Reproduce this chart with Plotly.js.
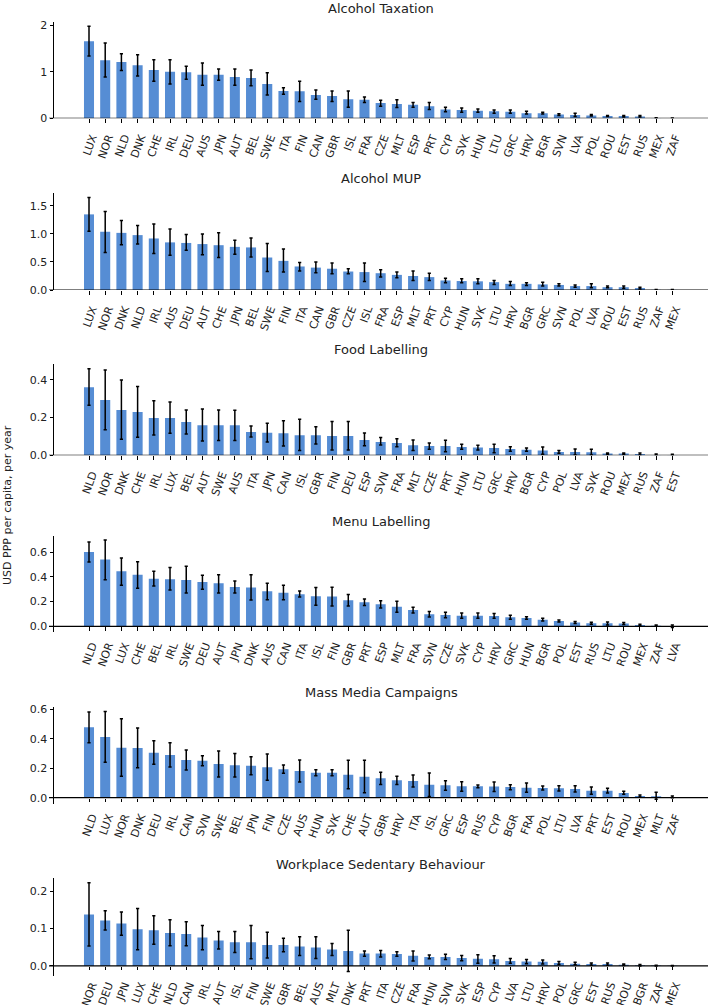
<!DOCTYPE html>
<html>
<head>
<meta charset="utf-8">
<script src="https://cdn.plot.ly/plotly-3.0.1.min.js"></script>
<style>html,body{margin:0;padding:0;background:#fff;}#chart{width:709px;height:1005px;}</style>
</head>
<body>
<div id="chart"></div>
<script>
// ---- Data ----
const titles = ["Alcohol Taxation","Alcohol MUP","Food Labelling","Menu Labelling","Mass Media Campaigns","Workplace Sedentary Behaviour"];

const cat1 = ["LUX","NOR","NLD","DNK","CHE","IRL","DEU","AUS","JPN","AUT","BEL","SWE","ITA","FIN","CAN","GBR","ISL","FRA","CZE","MLT","ESP","PRT","CYP","SVK","HUN","LTU","GRC","HRV","BGR","SVN","LVA","POL","ROU","EST","RUS","MEX","ZAF"];
const val1 = [1.66,1.25,1.21,1.14,1.04,1.00,0.99,0.94,0.94,0.89,0.87,0.74,0.59,0.58,0.50,0.48,0.41,0.40,0.33,0.31,0.29,0.26,0.19,0.18,0.16,0.15,0.14,0.11,0.11,0.08,0.07,0.06,0.05,0.05,0.04,0.005,0.003];
const hi1  = [1.98,1.62,1.39,1.37,1.26,1.26,1.12,1.19,1.06,1.06,1.04,0.98,0.66,0.80,0.61,0.59,0.59,0.46,0.39,0.40,0.34,0.34,0.24,0.22,0.20,0.18,0.18,0.15,0.13,0.10,0.11,0.08,0.06,0.06,0.06,0.012,0.008];
const lo1  = [1.34,0.89,1.03,0.91,0.80,0.74,0.84,0.71,0.82,0.71,0.70,0.50,0.52,0.36,0.41,0.36,0.24,0.34,0.26,0.23,0.24,0.19,0.14,0.13,0.13,0.11,0.11,0.09,0.09,0.06,0.04,0.05,0.04,0.03,0.03,0.001,0.0];

const cat2 = ["LUX","NOR","DNK","NLD","IRL","AUS","DEU","AUT","CHE","JPN","BEL","SWE","FIN","ITA","CAN","GBR","CZE","ISL","FRA","ESP","MLT","PRT","CYP","HUN","SVK","LTU","HRV","BGR","GRC","SVN","POL","LVA","ROU","EST","RUS","ZAF","MEX"];
const val2 = [1.35,1.04,1.02,0.98,0.92,0.85,0.84,0.82,0.80,0.77,0.76,0.58,0.52,0.42,0.40,0.38,0.33,0.32,0.30,0.27,0.25,0.23,0.17,0.16,0.155,0.14,0.11,0.11,0.10,0.09,0.07,0.07,0.05,0.05,0.035,0.003,0.002];
const hi2  = [1.65,1.40,1.24,1.15,1.18,1.09,0.99,1.00,1.02,0.89,0.93,0.83,0.73,0.49,0.50,0.48,0.38,0.48,0.36,0.32,0.34,0.30,0.21,0.20,0.20,0.17,0.15,0.13,0.14,0.11,0.09,0.11,0.07,0.07,0.05,0.01,0.008];
const lo2  = [1.05,0.67,0.81,0.82,0.65,0.62,0.71,0.63,0.58,0.64,0.59,0.33,0.32,0.34,0.31,0.29,0.29,0.15,0.23,0.22,0.17,0.17,0.13,0.13,0.11,0.10,0.08,0.08,0.07,0.07,0.05,0.04,0.04,0.03,0.02,0.0,0.0];

const cat3 = ["NLD","NOR","DNK","CHE","IRL","LUX","BEL","AUT","SWE","AUS","ITA","JPN","CAN","ISL","GBR","FIN","DEU","ESP","SVN","FRA","MLT","CZE","PRT","HUN","LTU","GRC","HRV","BGR","CYP","POL","LVA","SVK","ROU","MEX","RUS","ZAF","EST"];
const val3 = [0.361,0.294,0.241,0.230,0.198,0.198,0.177,0.159,0.159,0.159,0.124,0.120,0.117,0.106,0.106,0.103,0.103,0.081,0.071,0.065,0.053,0.050,0.050,0.044,0.041,0.039,0.034,0.030,0.025,0.018,0.018,0.016,0.009,0.009,0.007,0.002,0.001];
const hi3  = [0.460,0.453,0.400,0.365,0.290,0.283,0.241,0.246,0.241,0.239,0.156,0.170,0.184,0.191,0.152,0.179,0.179,0.119,0.094,0.088,0.081,0.065,0.080,0.058,0.053,0.058,0.046,0.039,0.044,0.025,0.034,0.032,0.012,0.012,0.012,0.007,0.005];
const lo3  = [0.265,0.136,0.085,0.096,0.108,0.117,0.113,0.076,0.078,0.078,0.097,0.071,0.050,0.025,0.060,0.028,0.028,0.051,0.055,0.046,0.025,0.032,0.019,0.032,0.028,0.014,0.021,0.021,0.005,0.011,0.002,0.002,0.004,0.004,0.002,0.0,-0.003];

const cat4 = ["NLD","NOR","LUX","CHE","BEL","IRL","SWE","DEU","AUT","JPN","DNK","AUS","CAN","ITA","ISL","FIN","GBR","PRT","ESP","MLT","FRA","SVN","CZE","SVK","CYP","HRV","GRC","HUN","BGR","POL","EST","RUS","LTU","ROU","MEX","ZAF","LVA"];
const val4 = [0.603,0.541,0.446,0.419,0.386,0.381,0.376,0.359,0.349,0.319,0.314,0.284,0.273,0.259,0.243,0.241,0.211,0.195,0.178,0.159,0.132,0.097,0.092,0.086,0.086,0.084,0.073,0.068,0.054,0.043,0.030,0.024,0.024,0.022,0.011,0.005,0.003];
const hi4  = [0.684,0.700,0.554,0.524,0.446,0.476,0.486,0.414,0.419,0.368,0.419,0.349,0.332,0.286,0.314,0.316,0.257,0.222,0.208,0.203,0.154,0.119,0.114,0.108,0.108,0.103,0.089,0.078,0.065,0.051,0.038,0.032,0.035,0.030,0.016,0.011,0.010];
const lo4  = [0.522,0.378,0.332,0.308,0.327,0.295,0.270,0.300,0.270,0.270,0.214,0.216,0.216,0.238,0.170,0.165,0.165,0.168,0.149,0.114,0.108,0.076,0.070,0.065,0.065,0.065,0.057,0.057,0.043,0.035,0.022,0.016,0.011,0.014,0.006,0.0,-0.010];

const cat5 = ["NLD","LUX","NOR","DNK","DEU","IRL","CAN","SVN","SWE","BEL","JPN","FIN","CZE","AUS","HUN","SVK","CHE","AUT","GBR","HRV","ITA","ISL","GRC","ESP","RUS","CYP","BGR","FRA","POL","LTU","LVA","PRT","EST","ROU","MEX","MLT","ZAF"];
const val5 = [0.477,0.411,0.339,0.337,0.305,0.289,0.255,0.251,0.228,0.219,0.217,0.206,0.192,0.181,0.169,0.169,0.156,0.142,0.131,0.118,0.113,0.088,0.084,0.077,0.077,0.075,0.072,0.068,0.066,0.063,0.059,0.047,0.047,0.032,0.011,0.009,0.005];
const hi5  = [0.581,0.585,0.536,0.472,0.386,0.373,0.323,0.285,0.316,0.300,0.278,0.296,0.221,0.255,0.190,0.190,0.253,0.253,0.172,0.145,0.154,0.167,0.115,0.108,0.086,0.106,0.088,0.099,0.079,0.081,0.081,0.072,0.063,0.043,0.018,0.036,0.011];
const lo5  = [0.373,0.240,0.145,0.203,0.226,0.208,0.188,0.217,0.140,0.140,0.156,0.118,0.165,0.106,0.149,0.149,0.061,0.034,0.090,0.090,0.072,0.007,0.050,0.043,0.068,0.041,0.054,0.036,0.052,0.045,0.038,0.023,0.032,0.023,0.005,-0.011,0.0];

const cat6 = ["NOR","DEU","JPN","LUX","CHE","NLD","CAN","IRL","AUT","ISL","FIN","SWE","GBR","BEL","AUS","MLT","DNK","PRT","ITA","CZE","FRA","HUN","SVN","SVK","ESP","CYP","LVA","LTU","HRV","POL","GRC","EST","RUS","ROU","BGR","ZAF","MEX"];
const val6 = [0.137,0.121,0.113,0.098,0.095,0.088,0.085,0.076,0.068,0.063,0.063,0.056,0.056,0.052,0.049,0.044,0.040,0.033,0.033,0.032,0.027,0.024,0.024,0.021,0.019,0.018,0.013,0.012,0.011,0.008,0.006,0.005,0.005,0.003,0.002,0.001,0.0005];
const hi6  = [0.222,0.147,0.144,0.153,0.134,0.123,0.118,0.108,0.092,0.092,0.108,0.090,0.074,0.078,0.078,0.060,0.095,0.040,0.041,0.038,0.040,0.029,0.031,0.028,0.030,0.027,0.020,0.017,0.016,0.012,0.010,0.008,0.008,0.005,0.004,0.002,0.001];
const lo6  = [0.053,0.096,0.082,0.043,0.058,0.054,0.054,0.043,0.045,0.036,0.019,0.021,0.038,0.028,0.020,0.028,-0.015,0.026,0.024,0.026,0.013,0.019,0.017,0.014,0.007,0.008,0.007,0.006,0.005,0.004,0.003,0.002,0.002,0.001,0.0,0.0,0.0];

const panels = [
  {cat:cat1, val:val1, hi:hi1, lo:lo1},
  {cat:cat2, val:val2, hi:hi2, lo:lo2},
  {cat:cat3, val:val3, hi:hi3, lo:lo3},
  {cat:cat4, val:val4, hi:hi4, lo:lo4},
  {cat:cat5, val:val5, hi:hi5, lo:lo5},
  {cat:cat6, val:val6, hi:hi6, lo:lo6}
];

// ---- Layout settings ----
const H = 1005;
const pxDom = [[21.7,118.3],[193.1,290.0],[364.3,455.3],[535.6,631.9],[707.0,803.7],[878.3,976.0]];
const yRanges = [[0,2.08],[0,1.73],[0,0.483],[-0.0455,0.7355],[-0.041,0.615],[-0.027,0.234]];
const yDticks = [1,0.5,0.2,0.2,0.2,0.1];
const yFormats = ["d",".1f",".1f",".1f",".1f",".1f"];
const titlePx = [8,178,350,521.5,692.5,864];
const FONT = "DejaVu Sans, sans-serif";
const barColor = "#568dd4";

const traces = [];
const layout = {
  width: 709, height: H,
  margin: {l:54, r:1, t:0, b:0},
  paper_bgcolor: "#fff", plot_bgcolor: "#fff",
  showlegend: false,
  font: {family: FONT, size: 11, color: "#222"},
  annotations: [], shapes: []
};

panels.forEach((p, i) => {
  const n = i + 1;
  const xa = n === 1 ? "x" : "x" + n;
  const ya = n === 1 ? "y" : "y" + n;
  traces.push({
    type: "bar",
    x: p.cat, y: p.val,
    xaxis: xa, yaxis: ya,
    width: 0.62,
    marker: {color: barColor, line: {width: 0}},
    error_y: {
      type: "data", symmetric: false,
      array: p.hi.map((h, k) => h - p.val[k]),
      arrayminus: p.lo.map((l, k) => p.val[k] - l),
      color: "#000", thickness: 1.5, width: 1.6
    },
    hoverinfo: "x+y"
  });
  const d = pxDom[i];
  const r = yRanges[i];
  // pixel row of the zero line (the x axis sits on it)
  const zeroPx = d[1] - (0 - r[0]) / (r[1] - r[0]) * (d[1] - d[0]);
  const xKey = n === 1 ? "xaxis" : "xaxis" + n;
  const yKey = n === 1 ? "yaxis" : "yaxis" + n;
  layout[xKey] = {
    domain: [0, 1], anchor: "free", position: 1 - zeroPx / H,
    type: "category", categoryorder: "array", categoryarray: p.cat,
    range: [-2.16, 38.2],
    showline: false, showgrid: false, zeroline: false,
    ticks: "outside", ticklen: 3.5, tickwidth: 1, tickcolor: "#000",
    tickangle: -70, ticklabelshift: 3, ticklabelstandoff: 4,
    tickfont: {family: FONT, size: 11, color: "#222"},
    fixedrange: true
  };
  layout[yKey] = {
    domain: [1 - d[1] / H, 1 - d[0] / H], anchor: xa,
    range: r,
    dtick: yDticks[i], tick0: 0, tickformat: yFormats[i],
    showline: true, linecolor: "#000", linewidth: 1,
    showgrid: false, zeroline: false,
    ticks: "outside", ticklen: 3.5, tickwidth: 1, tickcolor: "#000",
    tickfont: {family: FONT, size: 11, color: "#222"},
    fixedrange: true
  };
  // baseline at zero, slightly extending left of the y spine
  layout.shapes.push({
    type: "line", xref: "paper", yref: ya,
    x0: -5 / 654, x1: 1, y0: 0, y1: 0,
    line: {color: "#000", width: 1.2}
  });
  layout.annotations.push({
    text: titles[i], xref: "paper", yref: "paper",
    x: 0.5, y: 1 - titlePx[i] / H, xanchor: "center", yanchor: "middle",
    showarrow: false, font: {family: FONT, size: 13, color: "#222"}
  });
});

layout.annotations.push({
  text: "USD PPP per capita, per year", xref: "paper", yref: "paper",
  x: -47 / 654, y: 1 - 505 / H, xanchor: "center", yanchor: "middle",
  textangle: -90, showarrow: false,
  font: {family: FONT, size: 11, color: "#222"}
});

Plotly.newPlot("chart", traces, layout, {displayModeBar: false, staticPlot: true});
</script>
</body>
</html>
